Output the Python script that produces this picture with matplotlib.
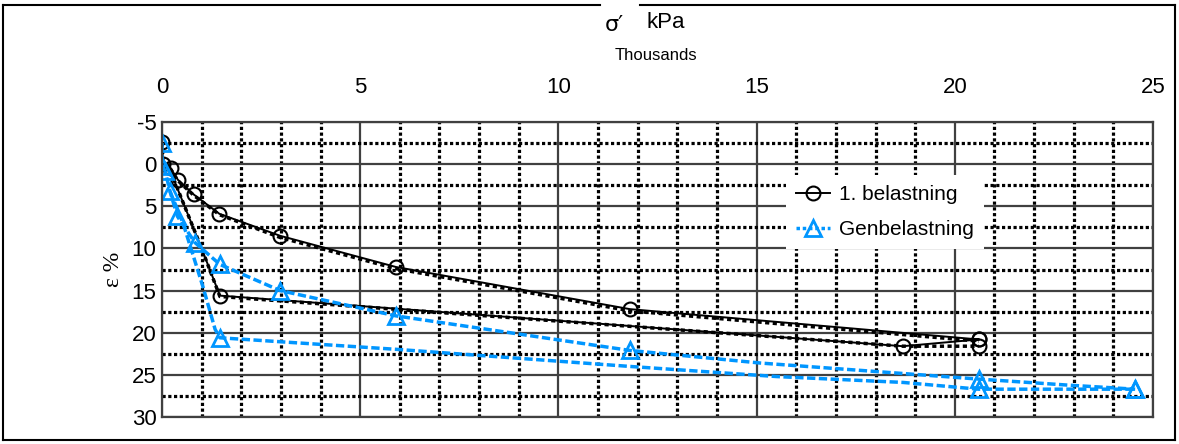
import numpy as np
import matplotlib
matplotlib.use('Agg')
import matplotlib.pyplot as plt
from matplotlib.ticker import MultipleLocator
from matplotlib.lines import Line2D

plt.rcParams['font.family'] = ['Liberation Sans', 'DejaVu Sans']
plt.rcParams['axes.unicode_minus'] = False

# 1. belastning - solid line with circles (two branches, nan = break)
x_bel = [0, 0.03, 0.22, 0.4, 0.8, 1.45, 2.98, 5.9, 11.8, 20.6,
         np.nan, 0.15, 1.0, 1.46, 18.69, 20.6]
y_bel = [-2.6, 0.0, 0.5, 1.85, 3.6, 5.9, 8.5, 12.2, 17.2, 20.8,
         np.nan, 0.1, 10.0, 15.6, 21.6, 20.8]
mark_bel = [0, 1, 2, 3, 4, 5, 6, 7, 8, 9, 13, 14, 15]

# same test, dotted overlay
x_bel_d = [0, 0.03, 0.22, 0.4, 0.8, 1.45, 2.98, 5.9, 11.8, 20.6,
           np.nan, 0.15, 1.0, 1.46, 18.69, 20.6]
y_bel_d = [-2.6, 0.1, 0.6, 1.95, 3.7, 6.0, 8.7, 12.4, 17.4, 21.0,
           np.nan, 0.1, 10.0, 15.7, 21.6, 21.6]
mark_bel_d = [15]

# Genbelastning - upper branch
x_gen1 = [0, 0, 0.08, 0.2, 0.39, 0.83, 1.46, 2.98, 5.9, 11.8, 15.1, 18.0, 20.6, 22.8, 24.55]
y_gen1 = [-2.5, 0.2, 0.85, 3.2, 6.2, 9.3, 11.9, 15.0, 18.0, 22.1, 23.6, 24.6, 25.5, 26.2, 26.7]
mark_gen1 = [0, 1, 2, 3, 4, 5, 6, 7, 8, 9, 12, 14]

# Genbelastning - lower branch
x_gen2 = [0.2, 0.53, 1.03, 1.34, 1.46, 3.4, 6.0, 11.8, 15.5, 18.7, 20.6, 24.55]
y_gen2 = [3.2, 7.0, 14.5, 19.6, 20.6, 21.2, 22.0, 24.0, 25.2, 25.9, 26.7, 26.7]
mark_gen2 = [4, 10, 11]

x_ticks = [0, 5, 10, 15, 20, 25]
y_ticks = [-5, 0, 5, 10, 15, 20, 25, 30]

blue = '#0096ff'

W, H = 1179, 444
fig = plt.figure(figsize=(W / 100, H / 100), dpi=100)
ax = fig.add_axes([162 / W, 1 - 417 / H, (1153 - 162) / W, (417 - 122) / H])

ax.set_xlim(0, 25)
ax.set_ylim(30, -5)
ax.xaxis.tick_top()
ax.set_xticks(x_ticks)
ax.set_yticks(y_ticks)
ax.xaxis.set_minor_locator(MultipleLocator(1))
ax.yaxis.set_minor_locator(MultipleLocator(2.5))
ax.tick_params(which='both', length=0)
ax.tick_params(axis='x', pad=17, labelsize=16)
ax.tick_params(axis='y', pad=4, labelsize=16)

ax.grid(which='major', color='#404040', lw=1.6, ls='-')
ax.grid(which='minor', color='black', lw=2.3, ls=(0, (1, 0.8)))
ax.set_axisbelow(True)
for s in ax.spines.values():
    s.set_color('#404040')
    s.set_linewidth(1.6)

# data
ax.plot(x_bel_d, y_bel_d, color='black', lw=2.5, ls=(0, (1.2, 1.0)),
        marker='o', markevery=mark_bel_d, ms=10, mfc='none', mec='black', mew=1.5)
ax.plot(x_bel, y_bel, color='black', lw=1.4, ls='-',
        marker='o', markevery=mark_bel, ms=10, mfc='none', mec='black', mew=1.5)
ax.plot(x_gen2, y_gen2, color=blue, lw=2.5, ls=(0, (2.4, 1.0)),
        marker='^', markevery=mark_gen2, ms=11, mfc='none', mec=blue, mew=2)
ax.plot(x_gen1, y_gen1, color=blue, lw=2.5, ls=(0, (2.4, 1.0)),
        marker='^', markevery=mark_gen1, ms=11, mfc='none', mec=blue, mew=2)

handles = [
    Line2D([], [], color='black', lw=1.4, marker='o', ms=10, mfc='none', mew=1.5),
    Line2D([], [], color=blue, lw=2.5, ls=(0, (1, 0.8)), marker='^', ms=11, mfc='none', mew=2),
]
leg = ax.legend(handles, ['1. belastning', 'Genbelastning'], loc='upper left',
                bbox_to_anchor=(786 / W, 1 - 175 / H), bbox_transform=fig.transFigure,
                borderaxespad=0, fontsize=15, handlelength=1.6, handletextpad=0.45,
                labelspacing=0.75, borderpad=0.5, fancybox=False, framealpha=1,
                facecolor='white', edgecolor='none')

ax.set_ylabel('ε %', family=['Liberation Serif', 'DejaVu Serif'], fontsize=17)
ax.yaxis.set_label_coords((124 - 162) / (1153 - 162), 0.5)

fig.text(614 / W, 1 - 25 / H, 'σ′', family=['DejaVu Sans'],
         fontsize=16, ha='center', va='center')
fig.text(666 / W, 1 - 23 / H, 'kPa', fontsize=16, ha='center', va='center')
fig.text(656 / W, 1 - 56 / H, 'Thousands', fontsize=12, ha='center', va='center')

# outer frame with gap at the title
frame = [((3, 5), (600, 5)), ((640, 5), (1175, 5)), ((1175, 5), (1175, 440)),
         ((1175, 440), (3, 440)), ((3, 440), (3, 5))]
for (xa, ya), (xb, yb) in frame:
    fig.add_artist(Line2D([xa / W, xb / W], [1 - ya / H, 1 - yb / H],
                          color='black', lw=1.5, transform=fig.transFigure))

fig.savefig('out.png', dpi=100)
